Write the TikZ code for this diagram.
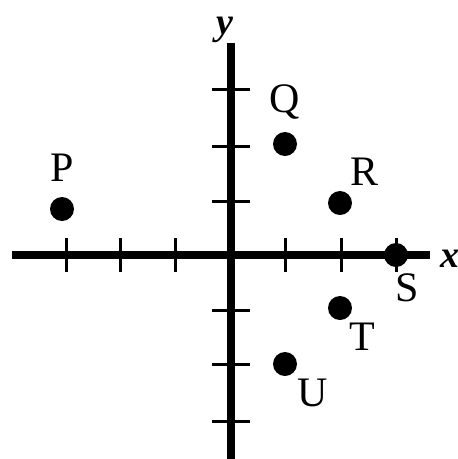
\documentclass[tikz,border=0pt]{standalone}
\usepackage{fontspec}
\setmainfont{Liberation Serif}
\begin{document}
\begin{tikzpicture}[x=1pt,y=-1pt,
  axis/.style={line width=8pt},
  tickmark/.style={line width=3pt},
  dot/.style={circle,fill=black,inner sep=0pt,minimum size=24pt},
  lbl/.style={font=\fontsize{42}{42}\selectfont,inner sep=0pt,anchor=base},
  axlbl/.style={font=\fontsize{38}{38}\selectfont\bfseries\itshape,inner sep=0pt,anchor=base}]
\useasboundingbox (0,0) rectangle (458,459);
\coordinate (xl) at (12,255);
\coordinate (xr) at (430,255);
\coordinate (yt) at (231,43);
\coordinate (yb) at (231,459);
\draw[axis] (xl) -- (xr);
\draw[axis] (yt) -- (yb);
\foreach \t in {66,120,175,285,341,396}
  \draw[tickmark] (\t,238) -- (\t,272);
\foreach \t in {89,146,201,310,364,421}
  \draw[tickmark] (212,\t) -- (250,\t);
\node[dot] (P) at (62,209) {};
\node[dot] (Q) at (285,144) {};
\node[dot] (R) at (340,203) {};
\node[dot] (S) at (396,255) {};
\node[dot] (T) at (340,308) {};
\node[dot] (U) at (285,364) {};
\node[lbl] (lP) at (62,181) {P};
\node[lbl] (lQ) at (285,112) {Q};
\node[lbl] (lR) at (365,185) {R};
\node[lbl] (lS) at (407,301) {S};
\node[lbl] (lT) at (362,350) {T};
\node[lbl] (lU) at (313,406) {U};
\node[axlbl,anchor=base west] (lx) at (440,267) {x};
\node[axlbl] (ly) at (225,34) {y};
\end{tikzpicture}
\end{document}
